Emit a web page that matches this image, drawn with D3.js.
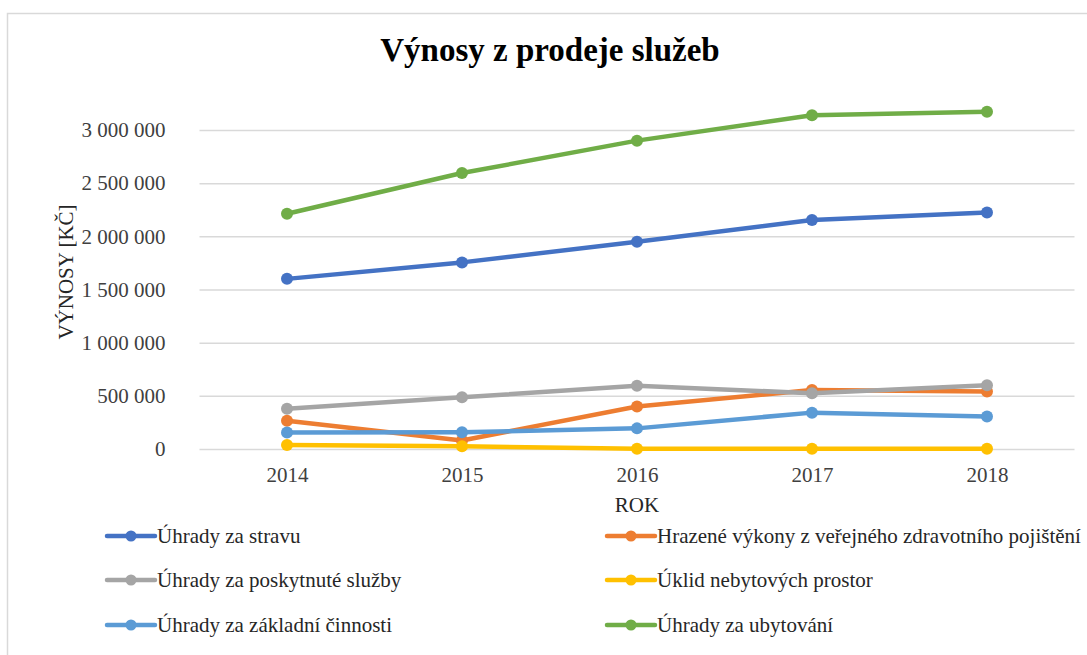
<!DOCTYPE html>
<html>
<head>
<meta charset="utf-8">
<script src="https://cdn.jsdelivr.net/npm/d3@7"></script>
<style>
  html, body { margin: 0; padding: 0; background: #fff; }
  svg { display: block; }
</style>
</head>
<body>
<svg id="chart" width="1087" height="655"></svg>
<script>
const years = ["2014", "2015", "2016", "2017", "2018"];
const seriesNames = [
  "Úhrady za stravu",
  "Hrazené výkony z veřejného zdravotního pojištění",
  "Úhrady za poskytnuté služby",
  "Úklid nebytových prostor",
  "Úhrady za základní činnosti",
  "Úhrady za ubytování"
];
const seriesColors = ["#4472C4", "#ED7D31", "#A5A5A5", "#FFC000", "#5B9BD5", "#70AD47"];
const strava     = [1600000, 1755000, 1950000, 2153000, 2225000];
const zdravotni  = [265000, 80000, 400000, 555000, 540000];
const sluzby     = [378000, 486000, 595000, 524000, 599000];
const uklid      = [38000, 25000, 3000, 3000, 3000];
const zakladni   = [155000, 158000, 194000, 342000, 305000];
const ubytovani  = [2212000, 2595000, 2900000, 3138000, 3172000];
const yTicks = [0, 500000, 1000000, 1500000, 2000000, 2500000, 3000000];
const seriesValues = [strava, zdravotni, sluzby, uklid, zakladni, ubytovani];

const svg = d3.select("#chart");
const serif = "'Liberation Serif', 'Times New Roman', serif";

// chart border
svg.append("rect").attr("x", 7.5).attr("y", 13.5).attr("width", 1100).attr("height", 700)
  .attr("fill", "#fff").attr("stroke", "#d9d9d9").attr("stroke-width", 1.5);

const plotLeft = 199.5, plotRight = 1074.5, plotTop = 130, plotBottom = 449;
const x = d3.scalePoint().domain(years).range([plotLeft, plotRight]).padding(0.5);
const y = d3.scaleLinear().domain([0, 3000000]).range([plotBottom, plotTop]);

const fmt = v => d3.format(",")(v).replace(/,/g, " ");

// gridlines
const yAxis = d3.axisLeft(y).tickValues(yTicks).tickSize(-(plotRight - plotLeft)).tickFormat(fmt).tickPadding(34);
const gy = svg.append("g").attr("transform", `translate(${plotLeft},0)`).call(yAxis);
gy.select(".domain").remove();
gy.selectAll(".tick line").attr("stroke", "#d9d9d9").attr("stroke-width", 1.5);
gy.selectAll(".tick text").attr("font-family", serif).attr("font-size", 21).attr("fill", "#404040");

// x axis labels
const xAxis = d3.axisBottom(x).tickSize(0).tickPadding(18);
const gx = svg.append("g").attr("transform", `translate(0,${plotBottom})`).call(xAxis);
gx.select(".domain").remove();
gx.selectAll(".tick text").attr("font-family", serif).attr("font-size", 21).attr("fill", "#404040");

// title
svg.append("text").attr("x", 550).attr("y", 61).attr("text-anchor", "middle")
  .attr("font-family", serif).attr("font-weight", "bold").attr("font-size", 33)
  .attr("fill", "#000").text("Výnosy z prodeje služeb");

// axis titles
svg.append("text").attr("transform", "translate(73,272) rotate(-90)").attr("text-anchor", "middle")
  .attr("font-family", serif).attr("font-size", 21).attr("fill", "#262626").text("VÝNOSY [KČ]");
svg.append("text").attr("x", 637).attr("y", 512).attr("text-anchor", "middle")
  .attr("font-family", serif).attr("font-size", 21).attr("fill", "#262626").text("ROK");

// lines
const line = d3.line().x((d, i) => x(years[i])).y(d => y(d));
seriesValues.forEach((vals, si) => {
  const g = svg.append("g");
  g.append("path").datum(vals).attr("d", line).attr("fill", "none")
    .attr("stroke", seriesColors[si]).attr("stroke-width", 4.5).attr("stroke-linejoin", "round").attr("stroke-linecap", "round");
  g.selectAll("circle").data(vals).join("circle")
    .attr("cx", (d, i) => x(years[i])).attr("cy", d => y(d)).attr("r", 6)
    .attr("fill", seriesColors[si]);
});

// legend
const legendCols = [107, 607];
const legendRows = [536, 580, 625];
seriesNames.forEach((name, i) => {
  const lx = legendCols[i % 2], ly = legendRows[Math.floor(i / 2)];
  const g = svg.append("g");
  g.append("line").attr("x1", lx).attr("x2", lx + 48).attr("y1", ly).attr("y2", ly)
    .attr("stroke", seriesColors[i]).attr("stroke-width", 4.5).attr("stroke-linecap", "round");
  g.append("circle").attr("cx", lx + 24).attr("cy", ly).attr("r", 5.5).attr("fill", seriesColors[i]);
  g.append("text").attr("x", lx + 50).attr("y", ly + 7).attr("font-family", serif).attr("font-size", 21)
    .attr("fill", "#262626").text(name);
});
</script>
</body>
</html>
